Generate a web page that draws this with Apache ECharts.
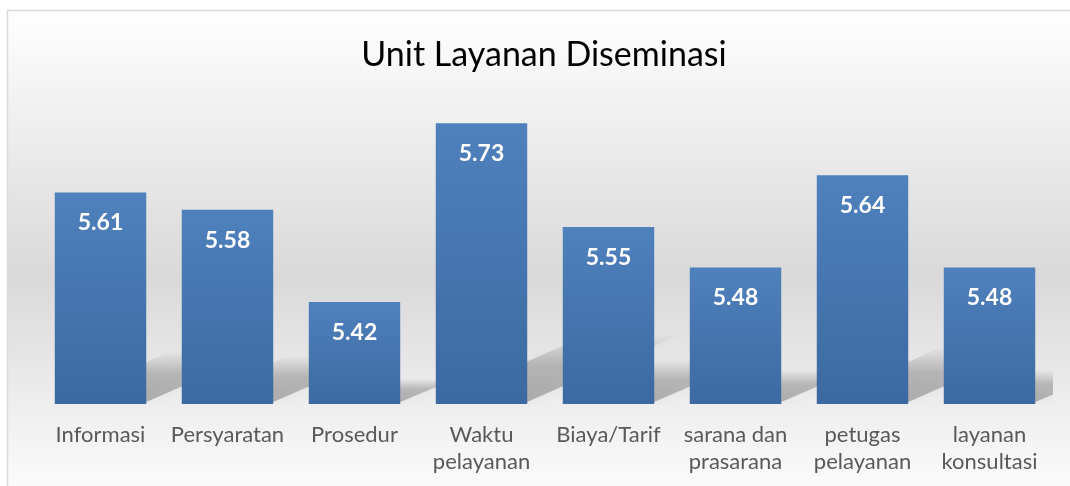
<!DOCTYPE html>
<html>
<head>
<meta charset="utf-8">
<script src="https://cdn.jsdelivr.net/npm/echarts@6/dist/echarts.min.js"></script>
<style>
html,body{margin:0;padding:0;background:#fff;}
#chart{width:1070px;height:486px;}
</style>
</head>
<body>
<div id="chart"></div>
<script>
const titleText = 'Unit Layanan Diseminasi';
const categories = ['Informasi', 'Persyaratan', 'Prosedur', 'Waktu\npelayanan', 'Biaya/Tarif', 'sarana dan\nprasarana', 'petugas\npelayanan', 'layanan\nkonsultasi'];
const values = [5.61, 5.58, 5.42, 5.73, 5.55, 5.48, 5.64, 5.48];
const yMin = 5.243;
const yMax = 5.8;

const chart = echarts.init(document.getElementById('chart'), null, {renderer: 'canvas'});
const FONT = 'Lato, "Open Sans", sans-serif';
const gapRatio = 0.72;

const option = {
  animation: false,
  backgroundColor: '#ffffff',
  graphic: [
    {
      type: 'rect', z: -10, silent: true,
      shape: {x: 7.5, y: 10.5, width: 1100, height: 500},
      style: {
        fill: new echarts.graphic.LinearGradient(0, 0, 0, 1, [
          {offset: 0, color: '#ffffff'},
          {offset: 0.53, color: '#d9d9d9'},
          {offset: 1, color: '#ffffff'}
        ]),
        stroke: '#d9d9d9', lineWidth: 1.5
      }
    },
    {
      type: 'text', z: 10, silent: true,
      style: {
        text: titleText, x: 544, y: 55,
        textAlign: 'center', textVerticalAlign: 'middle',
        font: '34px ' + FONT, fill: '#000000'
      }
    }
  ],
  grid: {left: 37, right: 17, top: 83, bottom: 82, containLabel: false},
  xAxis: {
    type: 'category',
    data: categories,
    axisLine: {show: false},
    axisTick: {show: false},
    axisLabel: {
      color: '#595959', fontSize: 22, fontFamily: FONT,
      lineHeight: 27, margin: 17, interval: 0
    }
  },
  yAxis: {
    type: 'value', min: yMin, max: yMax, show: false,
    splitLine: {show: false}
  },
  series: [
    {
      type: 'custom',
      z: 1,
      clip: true,
      silent: true,
      data: values.map((v, i) => [i, v]),
      renderItem: function (params, api) {
        const top = api.coord([api.value(0), api.value(1)]);
        const base = api.coord([api.value(0), yMin]);
        const band = api.size([1, 0])[0];
        const w = band * gapRatio;
        const xl = base[0] - w / 2, xr = base[0] + w / 2;
        const h = base[1] - top[1];
        const sh = h * 0.25;
        const dx = sh * 2.2;
        return {
          type: 'polygon',
          shape: {points: [[xl, base[1] - 2], [xr, base[1] - 2], [xr + dx, base[1] - sh], [xl + dx, base[1] - sh]]},
          style: {
            fill: new echarts.graphic.LinearGradient(0, 1, 0, 0, [
              {offset: 0, color: 'rgba(0,0,0,0.26)'},
              {offset: 0.55, color: 'rgba(0,0,0,0.2)'},
              {offset: 1, color: 'rgba(0,0,0,0)'}
            ]),
            shadowBlur: 12,
            shadowColor: 'rgba(0,0,0,0.15)'
          }
        };
      }
    },
    {
      type: 'bar',
      z: 2,
      data: values,
      barCategoryGap: '28%',
      itemStyle: {
        color: new echarts.graphic.LinearGradient(0, 0, 0, 1, [
          {offset: 0, color: '#4f81bd'},
          {offset: 1, color: '#3c69a1'}
        ])
      },
      label: {
        show: true,
        position: 'insideTop',
        distance: 19,
        color: '#ffffff',
        fontFamily: FONT,
        fontWeight: 'bold',
        fontSize: 23,
        formatter: p => p.value.toFixed(2)
      }
    }
  ]
};
chart.setOption(option);
</script>
</body>
</html>
